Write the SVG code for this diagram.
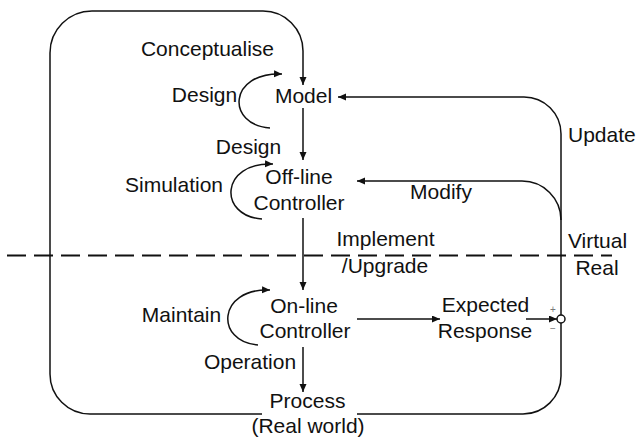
<svg xmlns="http://www.w3.org/2000/svg" width="637" height="441" viewBox="0 0 637 441">
<style>
text{font-family:"Liberation Sans",Arial,sans-serif;font-size:21px;fill:#111;text-anchor:middle}
.ln{fill:none;stroke:#111;stroke-width:1.5}
.arr{fill:none;stroke:#111;stroke-width:1.5;marker-end:url(#ah)}
.dash{fill:none;stroke:#111;stroke-width:2.2;stroke-dasharray:19 8}
.sm{font-size:10px;fill:#777}
</style>
<defs>
<marker id="ah" markerWidth="9" markerHeight="8" refX="8" refY="3.5" orient="auto" markerUnits="userSpaceOnUse"><path d="M0,0 L8,3.5 L0,7 z" fill="#111"/></marker>
</defs>
<rect width="637" height="441" fill="#fff"/>
<g id="boundary">
<path class="dash" d="M7,255.5 H612"/>
<text x="597.5" y="248">Virtual</text>
<text x="597" y="275">Real</text>
</g>
<g id="connectors">
<path class="arr" d="M262,414 H90 A40,40 0 0 1 50,374 V53 A42,42 0 0 1 92,11 H263 A40,40 0 0 1 303,51 V85"/>
<path class="ln" d="M357,414 H523 A38,38 0 0 0 561,376 V323"/>
<path class="arr" d="M561,315 V134 A37,37 0 0 0 524,97 H338"/>
<path class="arr" d="M561,220 A39,39 0 0 0 522,181 H357"/>
<path class="arr" d="M303,108 V160"/>
<path class="arr" d="M303,218 V290"/>
<path class="arr" d="M303,347 V392"/>
<path class="arr" d="M357,319 H440"/>
<path class="arr" d="M526,319 H557"/>
<path class="arr" d="M270,128 C226,125 228,72 282,74"/>
<path class="arr" d="M262,219 C218,216 220,162 273,164"/>
<path class="arr" d="M258,345 C215,342 217,288 270,290"/>
<text x="207.5" y="56">Conceptualise</text>
<text x="204.5" y="102">Design</text>
<text x="248.5" y="154">Design</text>
<text x="174" y="192">Simulation</text>
<text x="441" y="199">Modify</text>
<text x="568" y="142" style="text-anchor:start">Update</text>
<text x="385.5" y="246">Implement</text>
<text x="385" y="273">/Upgrade</text>
<text x="181.5" y="322">Maintain</text>
<text x="250" y="369">Operation</text>
</g>
<g id="model"><text x="303.5" y="102.5">Model</text></g>
<g id="offline-controller"><text x="299" y="184">Off-line</text><text x="299" y="210">Controller</text></g>
<g id="online-controller"><text x="304" y="313">On-line</text><text x="305" y="338">Controller</text></g>
<g id="expected-response"><text x="485.5" y="312">Expected</text><text x="485" y="338">Response</text></g>
<g id="comparator">
<circle cx="561" cy="319" r="4" fill="#fff" stroke="#111" stroke-width="1.5"/>
<text class="sm" x="553" y="313">+</text>
<text class="sm" x="553" y="332">−</text>
</g>
<g id="process"><text x="307.5" y="408">Process</text><text x="308" y="433">(Real world)</text></g>
</svg>
